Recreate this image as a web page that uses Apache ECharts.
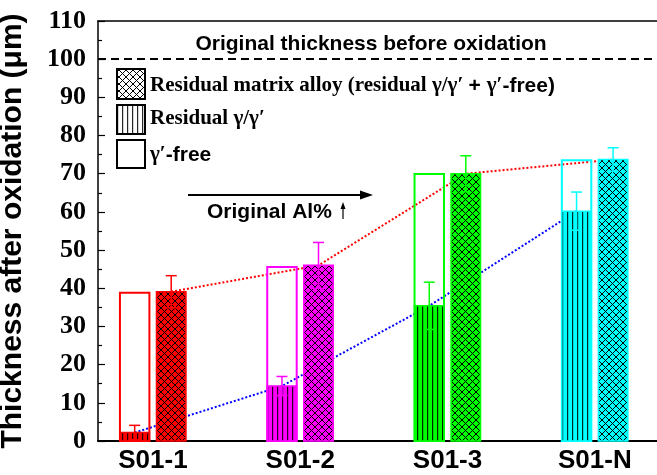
<!DOCTYPE html>
<html><head><meta charset="utf-8">
<script src="https://cdn.jsdelivr.net/npm/echarts@6/dist/echarts.min.js"></script>
<style>html,body{margin:0;padding:0;background:#fff}#c{width:657px;height:475px}</style>
</head><body><div id="c"></div>
<script>
// ---- data ----
const categories = ['S01-1', 'S01-2', 'S01-3', 'S01-N'];
const colors = ['#ff0000', '#ff00ff', '#00ff00', '#00ffff'];
const gammaFreeTop = [38.8, 45.6, 69.9, 73.5];      // open bar top (residual γ/γ′ + γ′-free)
const residualGG = [2.2, 14.4, 35.4, 60.2];         // residual γ/γ′
const residualGGErr = [1.9, 2.5, 6.2, 5.0];
const residualMatrix = [39.1, 46.0, 70.0, 73.7];    // residual matrix alloy
const residualMatrixErr = [4.2, 6.0, 4.7, 3.1];
const originalThickness = 100;
const yTicks = [0, 10, 20, 30, 40, 50, 60, 70, 80, 90, 100, 110];

const SERIF = '"Liberation Serif", "Times New Roman", serif';
const SANS = '"Liberation Sans", Arial, sans-serif';
const barOffset = 0.124, barW = 0.2;

function crossPattern(bg) {
  const p = 7, c = document.createElement('canvas');
  c.width = p; c.height = p;
  const g = c.getContext('2d');
  g.fillStyle = bg; g.fillRect(0, 0, p, p);
  g.strokeStyle = '#000'; g.lineWidth = 1;
  g.beginPath();
  g.moveTo(-1, -1); g.lineTo(p + 1, p + 1);
  g.moveTo(p + 1, -1); g.lineTo(-1, p + 1);
  g.stroke();
  return { image: c, repeat: 'repeat' };
}
function stripePattern(bg) {
  const p = 5, c = document.createElement('canvas');
  c.width = p; c.height = 4;
  const g = c.getContext('2d');
  g.fillStyle = bg; g.fillRect(0, 0, p, 4);
  g.fillStyle = 'rgba(0,0,0,0.85)'; g.fillRect(2, 0, 1.2, 4);
  return { image: c, repeat: 'repeat' };
}

function rectItem(fillFn, lw) {
  return function (params, api) {
    const i = params.dataIndex;
    const xv = api.value(0), yv = api.value(1);
    const p0 = api.coord([xv, 0]), p1 = api.coord([xv, yv]);
    const w = api.size([barW, 0])[0];
    return {
      type: 'rect',
      shape: { x: p0[0] - w / 2, y: p1[1], width: w, height: p0[1] - p1[1] },
      style: { fill: fillFn(i), stroke: colors[i], lineWidth: lw }
    };
  };
}
function errItem(params, api) {
  const i = params.dataIndex;
  const xv = api.value(0), yv = api.value(1), e = api.value(2);
  const hi = api.coord([xv, yv + e]), lo = api.coord([xv, yv - e]);
  const cw = 5.5, st = { stroke: colors[i], lineWidth: 1.5 };
  return {
    type: 'group', children: [
      { type: 'line', shape: { x1: hi[0], y1: hi[1], x2: lo[0], y2: lo[1] }, style: st },
      { type: 'line', shape: { x1: hi[0] - cw, y1: hi[1], x2: hi[0] + cw, y2: hi[1] }, style: st },
      { type: 'line', shape: { x1: lo[0] - cw, y1: lo[1], x2: lo[0] + cw, y2: lo[1] }, style: st }
    ]
  };
}

const xMin = 0.627, xMax = 4.714;
const chart = echarts.init(document.getElementById('c'), null, { renderer: 'canvas' });
chart.setOption({
  animation: false,
  backgroundColor: '#fff',
  grid: { left: 98, top: 21, bottom: 34, right: -43, containLabel: false, outerBoundsMode: 'none' },
  xAxis: [{
    type: 'value', min: xMin, max: xMax,
    axisLine: { show: true, lineStyle: { color: '#000', width: 2 } },
    axisTick: { show: false }, splitLine: { show: false },
    axisLabel: {
      customValues: categories.map((c, i) => i + 1),
      formatter: v => categories[Math.round(v) - 1] || '',
      fontFamily: SANS, fontWeight: 'bold', fontSize: 26, color: '#000', margin: 7
    }
  }, {
    type: 'value', position: 'top', min: xMin, max: xMax,
    axisLine: { show: true, onZero: false, lineStyle: { color: '#000', width: 1.5 } },
    axisTick: { show: false }, axisLabel: { show: false }, splitLine: { show: false }
  }],
  yAxis: {
    type: 'value', min: 0, max: 110, interval: 10,
    name: 'Thickness after oxidation (μm)', nameLocation: 'middle', nameGap: 70,
    nameTextStyle: { fontFamily: SANS, fontWeight: 'bold', fontSize: 30, color: '#000' },
    axisLine: { show: true, lineStyle: { color: '#000', width: 1.5 } },
    axisTick: { show: true, inside: true, length: 7, lineStyle: { color: '#000', width: 1.2 } },
    minorTick: { show: true, splitNumber: 2, length: 4, lineStyle: { color: '#000', width: 1.2 } },
    splitLine: { show: false },
    axisLabel: {
      customValues: yTicks,
      fontFamily: SERIF, fontWeight: 'bold', fontSize: 26, color: '#000', margin: 12
    }
  },
  series: [
    {
      type: 'line', z: 1, symbol: 'none', silent: true,
      data: categories.map((c, i) => [i + 1 + barOffset, residualMatrix[i]]),
      lineStyle: { color: '#ff0000', width: 2, type: [2, 2] },
      markLine: {
        silent: true, symbol: 'none', label: { show: false },
        lineStyle: { color: '#000', width: 2, type: [8, 5] },
        data: [{ yAxis: originalThickness }]
      }
    },
    {
      type: 'line', z: 1, symbol: 'none', silent: true,
      data: categories.map((c, i) => [i + 1 - barOffset, residualGG[i]]),
      lineStyle: { color: '#0000ff', width: 2, type: [2, 2] }
    },
    {
      type: 'custom', z: 3, silent: true,
      renderItem: rectItem(() => 'rgba(0,0,0,0)', 2),
      data: categories.map((c, i) => [i + 1 - barOffset, gammaFreeTop[i]])
    },
    {
      type: 'custom', z: 4, silent: true,
      renderItem: rectItem(i => stripePattern(colors[i]), 1.5),
      data: categories.map((c, i) => [i + 1 - barOffset, residualGG[i]])
    },
    {
      type: 'custom', z: 4, silent: true,
      renderItem: rectItem(i => crossPattern(colors[i]), 1.5),
      data: categories.map((c, i) => [i + 1 + barOffset, residualMatrix[i]])
    },
    {
      type: 'custom', z: 5, silent: true, renderItem: errItem,
      data: categories.map((c, i) => [i + 1 - barOffset, residualGG[i], residualGGErr[i]])
    },
    {
      type: 'custom', z: 5, silent: true, renderItem: errItem,
      data: categories.map((c, i) => [i + 1 + barOffset, residualMatrix[i], residualMatrixErr[i]])
    }
  ],
  graphic: [
    { type: 'text', x: 371, y: 44, style: { text: 'Original thickness before oxidation', fill: '#000',
      font: 'bold 21px ' + SANS, align: 'center', verticalAlign: 'middle' } },
    // legend
    { type: 'rect', shape: { x: 117, y: 69, width: 28, height: 30 }, style: { fill: crossPattern('#fff'), stroke: '#000', lineWidth: 2 } },
    { type: 'rect', shape: { x: 117, y: 105, width: 28, height: 29 }, style: { fill: stripePattern('#fff'), stroke: '#000', lineWidth: 2 } },
    { type: 'rect', shape: { x: 117, y: 140, width: 28, height: 28 }, style: { fill: '#fff', stroke: '#000', lineWidth: 2 } },
    { type: 'text', x: 150, y: 86, style: {
      text: '{t|Residual matrix alloy (residual γ/γ′ }{s|+ }{t|γ′}{s|-free)}', verticalAlign: 'middle',
      rich: { t: { fontFamily: SERIF, fontWeight: 'bold', fontSize: 21, fill: '#000' },
              s: { fontFamily: SANS, fontWeight: 'bold', fontSize: 21, fill: '#000' } } } },
    { type: 'text', x: 150, y: 119, style: {
      text: 'Residual γ/γ′', verticalAlign: 'middle', font: 'bold 21px ' + SERIF, fill: '#000' } },
    { type: 'text', x: 150, y: 155, style: {
      text: '{t|γ′}{s|-free}', verticalAlign: 'middle',
      rich: { t: { fontFamily: SERIF, fontWeight: 'bold', fontSize: 21, fill: '#000' },
              s: { fontFamily: SANS, fontWeight: 'bold', fontSize: 21, fill: '#000' } } } },
    // arrow
    { type: 'line', shape: { x1: 188, y1: 195, x2: 362, y2: 195 }, style: { stroke: '#000', lineWidth: 2 } },
    { type: 'polygon', shape: { points: [[373, 195], [360, 190.5], [360, 199.5]] }, style: { fill: '#000' } },
    { type: 'text', x: 207, y: 212, style: { text: 'Original Al%', font: 'bold 21px ' + SANS, fill: '#000', verticalAlign: 'middle' } },
    { type: 'line', shape: { x1: 343, y1: 219, x2: 343, y2: 207 }, style: { stroke: '#000', lineWidth: 1.2 } },
    { type: 'polygon', shape: { points: [[343, 202], [340.5, 209], [345.5, 209]] }, style: { fill: '#000' } }
  ]
});
</script>
</body></html>
